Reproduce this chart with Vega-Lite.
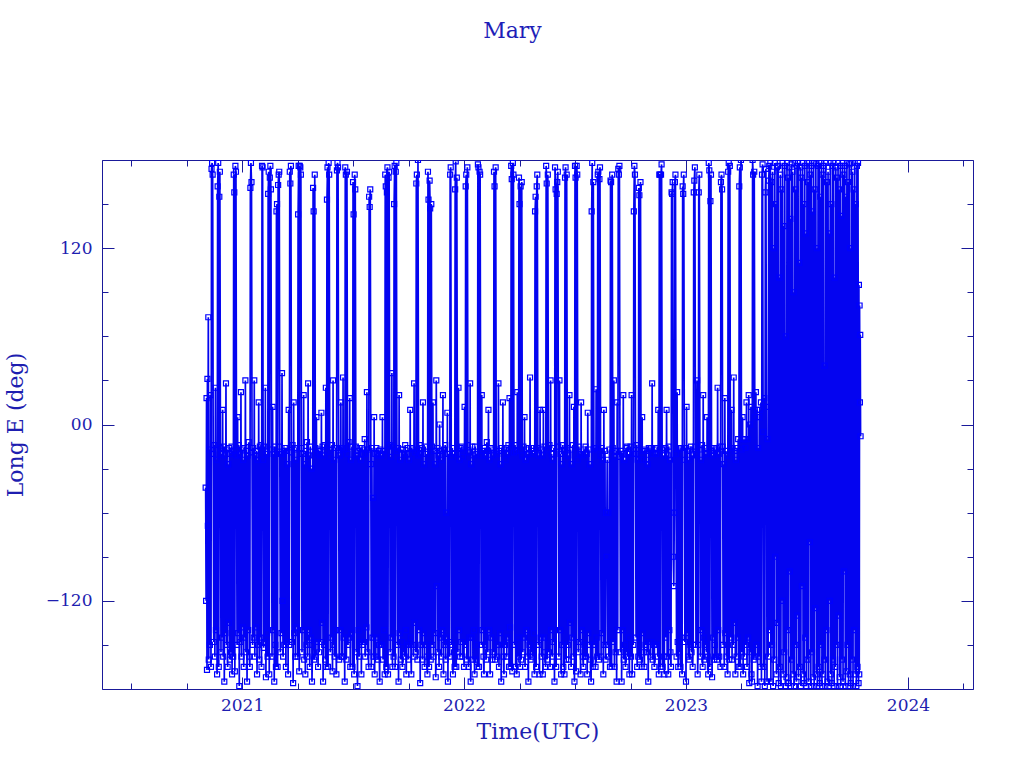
{
  "$schema": "https://vega.github.io/schema/vega-lite/v6.json",
  "width": 871,
  "height": 529,
  "autosize": {"type": "none"},
  "padding": {"left": 102, "top": 160, "right": 51, "bottom": 79},
  "background": "white",
  "config": {
    "font": "DejaVu Serif",
    "view": {"stroke": "#1a1a9a", "strokeWidth": 1},
    "axis": {"grid": false, "domain": false, "tickColor": "#1a1a9a", "tickWidth": 1, "labelColor": "#1e1eb0", "titleColor": "#1e1eb0", "labelFont": "DejaVu Serif", "titleFont": "DejaVu Serif", "labelFontSize": 17, "titleFontSize": 22, "titleFontWeight": "normal"}
  },
  "title": {"text": "Mary", "fontSize": 22, "font": "DejaVu Serif", "fontWeight": "normal", "color": "#1e1eb8", "anchor": "middle", "dx": -25, "offset": 91, "baseline": "alphabetic"},
  "data": {"values": [
{"t":2020.836,"v":-43},{"t":2020.838,"v":-120},{"t":2020.840,"v":18},{"t":2020.842,"v":-167},{"t":2020.844,"v":31},{"t":2020.846,"v":-69},{"t":2020.848,"v":73},
{"t":2020.85,"v":-160},{"t":2020.8525,"v":-17},{"t":2020.855,"v":-150},{"t":2020.8575,"v":20},{"t":2020.86,"v":-165},{"t":2020.8625,"v":174},{"t":2020.865,"v":178},{"t":2020.8675,"v":170},{"t":2020.87,"v":-20},{"t":2020.8725,"v":-148},{"t":2020.875,"v":-14},{"t":2020.8775,"v":-158},{"t":2020.88,"v":25},{"t":2020.8825,"v":-140},{"t":2020.885,"v":-24},{"t":2020.8875,"v":-170},{"t":2020.89,"v":162},{"t":2020.8925,"v":178},{"t":2020.895,"v":-165},{"t":2020.8975,"v":155},{"t":2020.9,"v":172},{"t":2020.9025,"v":-16},{"t":2020.905,"v":-155},{"t":2020.9075,"v":-20},{"t":2020.91,"v":-145},{"t":2020.9125,"v":10},{"t":2020.915,"v":-158},{"t":2020.9175,"v":-15},{"t":2020.92,"v":-175},{"t":2020.9225,"v":-21},{"t":2020.925,"v":-142},{"t":2020.9275,"v":28},{"t":2020.93,"v":-150},{"t":2020.9325,"v":-17},{"t":2020.935,"v":-165},{"t":2020.9375,"v":-27},{"t":2020.94,"v":-135},{"t":2020.9425,"v":-16},{"t":2020.945,"v":-160},{"t":2020.9475,"v":-20},
{"t":2020.95,"v":-155},{"t":2020.9525,"v":-15},{"t":2020.955,"v":-170},{"t":2020.9575,"v":-18},{"t":2020.96,"v":-158},{"t":2020.9625,"v":170},{"t":2020.965,"v":158},{"t":2020.9675,"v":-168},{"t":2020.97,"v":176},{"t":2020.9725,"v":172},{"t":2020.975,"v":-21},{"t":2020.9775,"v":-150},{"t":2020.98,"v":5},{"t":2020.9825,"v":-142},{"t":2020.985,"v":-14},{"t":2020.9875,"v":-178},{"t":2020.99,"v":-20},{"t":2020.9925,"v":-148},{"t":2020.995,"v":22},{"t":2020.9975,"v":-158},{"t":2021.0,"v":-17},{"t":2021.0025,"v":-138},{"t":2021.005,"v":-24},{"t":2021.0075,"v":-165},{"t":2021.01,"v":-16},{"t":2021.0125,"v":-145},{"t":2021.015,"v":30},{"t":2021.0175,"v":-155},{"t":2021.02,"v":-18},{"t":2021.0225,"v":-175},{"t":2021.025,"v":-21},{"t":2021.0275,"v":-140},{"t":2021.03,"v":-12},{"t":2021.0325,"v":-158},{"t":2021.035,"v":-165},{"t":2021.0375,"v":161},{"t":2021.04,"v":178},{"t":2021.0425,"v":165},{"t":2021.045,"v":-19},{"t":2021.0475,"v":-150},
{"t":2021.05,"v":-16},{"t":2021.0525,"v":-145},{"t":2021.055,"v":30},{"t":2021.0575,"v":-158},{"t":2021.06,"v":-21},{"t":2021.0625,"v":-138},{"t":2021.065,"v":-18},{"t":2021.0675,"v":-170},{"t":2021.07,"v":-24},{"t":2021.0725,"v":-150},{"t":2021.075,"v":15},{"t":2021.0775,"v":-160},{"t":2021.08,"v":-15},{"t":2021.0825,"v":-145},{"t":2021.085,"v":-14},{"t":2021.0875,"v":-165},{"t":2021.09,"v":176},{"t":2021.0925,"v":175},{"t":2021.095,"v":-24},{"t":2021.0975,"v":-152},{"t":2021.1,"v":-15},{"t":2021.1025,"v":-148},{"t":2021.105,"v":25},{"t":2021.1075,"v":-172},{"t":2021.11,"v":-20},{"t":2021.1125,"v":-142},{"t":2021.115,"v":-158},{"t":2021.1175,"v":157},{"t":2021.12,"v":172},{"t":2021.1225,"v":-170},{"t":2021.125,"v":168},{"t":2021.1275,"v":176},{"t":2021.13,"v":160},{"t":2021.1325,"v":-17},{"t":2021.135,"v":-158},{"t":2021.1375,"v":12},{"t":2021.14,"v":-140},{"t":2021.1425,"v":-20},{"t":2021.145,"v":-175},{"t":2021.1475,"v":-15},
{"t":2021.15,"v":-150},{"t":2021.1525,"v":-165},{"t":2021.155,"v":145},{"t":2021.1575,"v":150},{"t":2021.16,"v":-165},{"t":2021.1625,"v":163},{"t":2021.165,"v":170},{"t":2021.1675,"v":172},{"t":2021.17,"v":-15},{"t":2021.1725,"v":-155},{"t":2021.175,"v":-20},{"t":2021.1775,"v":-142},{"t":2021.18,"v":35},{"t":2021.1825,"v":-120},{"t":2021.185,"v":-158},{"t":2021.1875,"v":-20},{"t":2021.19,"v":-150},{"t":2021.1925,"v":-16},{"t":2021.195,"v":-18},{"t":2021.1975,"v":-165},{"t":2021.2,"v":-16},{"t":2021.2025,"v":-148},{"t":2021.205,"v":-27},{"t":2021.2075,"v":-170},{"t":2021.21,"v":10},{"t":2021.2125,"v":-150},{"t":2021.215,"v":172},{"t":2021.2175,"v":164},{"t":2021.22,"v":176},{"t":2021.2225,"v":-19},{"t":2021.225,"v":-148},{"t":2021.2275,"v":-14},{"t":2021.23,"v":-176},{"t":2021.2325,"v":15},{"t":2021.235,"v":-142},{"t":2021.2375,"v":-17},{"t":2021.24,"v":-158},{"t":2021.2425,"v":-24},{"t":2021.245,"v":-138},{"t":2021.2475,"v":-16},
{"t":2021.25,"v":-158},{"t":2021.2525,"v":143},{"t":2021.255,"v":176},{"t":2021.2575,"v":-168},{"t":2021.26,"v":176},{"t":2021.2625,"v":175},{"t":2021.265,"v":170},{"t":2021.2675,"v":-16},{"t":2021.27,"v":-155},{"t":2021.2725,"v":-20},{"t":2021.275,"v":-140},{"t":2021.2775,"v":20},{"t":2021.28,"v":-160},{"t":2021.2825,"v":-27},{"t":2021.285,"v":-170},{"t":2021.2875,"v":-18},{"t":2021.29,"v":-150},{"t":2021.2925,"v":-12},{"t":2021.295,"v":-158},{"t":2021.2975,"v":28},{"t":2021.3,"v":-140},{"t":2021.3025,"v":-21},{"t":2021.305,"v":-165},{"t":2021.3075,"v":-15},{"t":2021.31,"v":-145},{"t":2021.3125,"v":-30},{"t":2021.315,"v":-175},{"t":2021.3175,"v":-150},{"t":2021.32,"v":161},{"t":2021.3225,"v":145},{"t":2021.325,"v":-160},{"t":2021.3275,"v":170},{"t":2021.33,"v":-16},{"t":2021.3325,"v":-158},{"t":2021.335,"v":5},{"t":2021.3375,"v":-148},{"t":2021.34,"v":-20},{"t":2021.3425,"v":-165},{"t":2021.345,"v":-17},{"t":2021.3475,"v":-155},
{"t":2021.35,"v":-21},{"t":2021.3525,"v":-18},{"t":2021.355,"v":-148},{"t":2021.3575,"v":8},{"t":2021.36,"v":-135},{"t":2021.3625,"v":-15},{"t":2021.365,"v":-175},{"t":2021.3675,"v":-21},{"t":2021.37,"v":-150},{"t":2021.3725,"v":-14},{"t":2021.375,"v":-160},{"t":2021.3775,"v":25},{"t":2021.38,"v":-165},{"t":2021.3825,"v":153},{"t":2021.385,"v":175},{"t":2021.3875,"v":-165},{"t":2021.39,"v":178},{"t":2021.3925,"v":170},{"t":2021.395,"v":-22},{"t":2021.3975,"v":-155},{"t":2021.4,"v":-17},{"t":2021.4025,"v":-145},{"t":2021.405,"v":-14},{"t":2021.4075,"v":-168},{"t":2021.41,"v":30},{"t":2021.4125,"v":-150},{"t":2021.415,"v":-24},{"t":2021.4175,"v":-158},{"t":2021.42,"v":-16},{"t":2021.4225,"v":-140},{"t":2021.425,"v":-170},{"t":2021.4275,"v":173},{"t":2021.43,"v":178},{"t":2021.4325,"v":175},{"t":2021.435,"v":-17},{"t":2021.4375,"v":-160},{"t":2021.44,"v":-21},{"t":2021.4425,"v":-140},{"t":2021.445,"v":15},{"t":2021.4475,"v":-158},
{"t":2021.45,"v":-16},{"t":2021.4525,"v":-158},{"t":2021.455,"v":32},{"t":2021.4575,"v":-145},{"t":2021.46,"v":-17},{"t":2021.4625,"v":-175},{"t":2021.465,"v":175},{"t":2021.4675,"v":170},{"t":2021.47,"v":-160},{"t":2021.4725,"v":172},{"t":2021.475,"v":-20},{"t":2021.4775,"v":-150},{"t":2021.48,"v":-12},{"t":2021.4825,"v":-145},{"t":2021.485,"v":18},{"t":2021.4875,"v":-165},{"t":2021.49,"v":-24},{"t":2021.4925,"v":-142},{"t":2021.495,"v":-15},{"t":2021.4975,"v":-165},{"t":2021.5,"v":165},{"t":2021.5025,"v":143},{"t":2021.505,"v":-170},{"t":2021.5075,"v":170},{"t":2021.51,"v":160},{"t":2021.5125,"v":-15},{"t":2021.515,"v":-155},{"t":2021.5175,"v":-21},{"t":2021.52,"v":-178},{"t":2021.5225,"v":-18},{"t":2021.525,"v":-140},{"t":2021.5275,"v":-158},{"t":2021.53,"v":-16},{"t":2021.5325,"v":-148},{"t":2021.535,"v":-24},{"t":2021.5375,"v":-170},{"t":2021.54,"v":-16},{"t":2021.5425,"v":-150},{"t":2021.545,"v":-20},{"t":2021.5475,"v":-17},
{"t":2021.55,"v":-148},{"t":2021.5525,"v":-10},{"t":2021.555,"v":-158},{"t":2021.5575,"v":-20},{"t":2021.56,"v":-138},{"t":2021.5625,"v":22},{"t":2021.565,"v":-155},{"t":2021.5675,"v":-17},{"t":2021.57,"v":-165},{"t":2021.5725,"v":155},{"t":2021.575,"v":148},{"t":2021.5775,"v":160},{"t":2021.58,"v":-27},{"t":2021.5825,"v":-165},{"t":2021.585,"v":-16},{"t":2021.5875,"v":-145},{"t":2021.59,"v":-50},{"t":2021.5925,"v":-158},{"t":2021.595,"v":5},{"t":2021.5975,"v":-170},{"t":2021.6,"v":-20},{"t":2021.6025,"v":-158},{"t":2021.605,"v":-16},{"t":2021.6075,"v":-145},{"t":2021.61,"v":-21},{"t":2021.6125,"v":-160},{"t":2021.615,"v":-18},{"t":2021.6175,"v":-150},{"t":2021.62,"v":-175},{"t":2021.6225,"v":-17},{"t":2021.625,"v":-150},{"t":2021.6275,"v":-21},{"t":2021.63,"v":-150},{"t":2021.6325,"v":5},{"t":2021.635,"v":-160},{"t":2021.6375,"v":-18},{"t":2021.64,"v":-140},{"t":2021.6425,"v":-170},{"t":2021.645,"v":170},{"t":2021.6475,"v":162},
{"t":2021.65,"v":-165},{"t":2021.6525,"v":158},{"t":2021.655,"v":175},{"t":2021.6575,"v":-170},{"t":2021.66,"v":168},{"t":2021.6625,"v":172},{"t":2021.665,"v":-14},{"t":2021.6675,"v":-155},{"t":2021.67,"v":-22},{"t":2021.6725,"v":-145},{"t":2021.675,"v":35},{"t":2021.6775,"v":-165},{"t":2021.68,"v":-15},{"t":2021.6825,"v":-158},{"t":2021.685,"v":150},{"t":2021.6875,"v":176},{"t":2021.69,"v":-165},{"t":2021.6925,"v":172},{"t":2021.695,"v":178},{"t":2021.6975,"v":-18},{"t":2021.7,"v":-150},{"t":2021.7025,"v":-16},{"t":2021.705,"v":-175},{"t":2021.7075,"v":20},{"t":2021.71,"v":-142},{"t":2021.7125,"v":-24},{"t":2021.715,"v":-160},{"t":2021.7175,"v":-17},{"t":2021.72,"v":-148},{"t":2021.7225,"v":-165},{"t":2021.725,"v":-17},{"t":2021.7275,"v":-155},{"t":2021.73,"v":-20},{"t":2021.7325,"v":-158},{"t":2021.735,"v":-14},{"t":2021.7375,"v":-140},{"t":2021.74,"v":-170},{"t":2021.7425,"v":-20},{"t":2021.745,"v":-150},{"t":2021.7475,"v":-16},
{"t":2021.75,"v":-160},{"t":2021.7525,"v":-24},{"t":2021.755,"v":-150},{"t":2021.7575,"v":10},{"t":2021.76,"v":-145},{"t":2021.7625,"v":-170},{"t":2021.765,"v":-16},{"t":2021.7675,"v":-150},{"t":2021.77,"v":-17},{"t":2021.7725,"v":-158},{"t":2021.775,"v":28},{"t":2021.7775,"v":-135},{"t":2021.78,"v":-19},{"t":2021.7825,"v":-155},{"t":2021.785,"v":164},{"t":2021.7875,"v":170},{"t":2021.79,"v":-160},{"t":2021.7925,"v":180},{"t":2021.795,"v":-21},{"t":2021.7975,"v":-140},{"t":2021.8,"v":-14},{"t":2021.8025,"v":-176},{"t":2021.805,"v":-20},{"t":2021.8075,"v":-150},{"t":2021.81,"v":-16},{"t":2021.8125,"v":-160},{"t":2021.815,"v":15},{"t":2021.8175,"v":-142},{"t":2021.82,"v":-27},{"t":2021.8225,"v":-165},{"t":2021.825,"v":-15},{"t":2021.8275,"v":-150},{"t":2021.83,"v":-20},{"t":2021.8325,"v":-158},{"t":2021.835,"v":-170},{"t":2021.8375,"v":172},{"t":2021.84,"v":153},{"t":2021.8425,"v":-165},{"t":2021.845,"v":166},{"t":2021.8475,"v":147},
{"t":2021.85,"v":-160},{"t":2021.8525,"v":150},{"t":2021.855,"v":-15},{"t":2021.8575,"v":-150},{"t":2021.86,"v":15},{"t":2021.8625,"v":-158},{"t":2021.865,"v":-18},{"t":2021.8675,"v":-142},{"t":2021.87,"v":-27},{"t":2021.8725,"v":-172},{"t":2021.875,"v":30},{"t":2021.8775,"v":-110},{"t":2021.88,"v":-16},{"t":2021.8825,"v":-155},{"t":2021.885,"v":-21},{"t":2021.8875,"v":-165},{"t":2021.89,"v":0},{"t":2021.8925,"v":-145},{"t":2021.895,"v":-18},{"t":2021.8975,"v":-158},{"t":2021.9,"v":-24},{"t":2021.9025,"v":-140},{"t":2021.905,"v":20},{"t":2021.9075,"v":-170},{"t":2021.91,"v":-17},{"t":2021.9125,"v":-150},{"t":2021.915,"v":-14},{"t":2021.9175,"v":-160},{"t":2021.92,"v":-60},{"t":2021.9225,"v":-145},{"t":2021.925,"v":8},{"t":2021.9275,"v":-175},{"t":2021.93,"v":-20},{"t":2021.9325,"v":-148},{"t":2021.935,"v":-158},{"t":2021.9375,"v":170},{"t":2021.94,"v":175},{"t":2021.9425,"v":-22},{"t":2021.945,"v":-150},{"t":2021.9475,"v":-16},
{"t":2021.95,"v":-170},{"t":2021.9525,"v":-20},{"t":2021.955,"v":-155},{"t":2021.9575,"v":-165},{"t":2021.96,"v":160},{"t":2021.9625,"v":179},{"t":2021.965,"v":-165},{"t":2021.9675,"v":168},{"t":2021.97,"v":-20},{"t":2021.9725,"v":-155},{"t":2021.975,"v":25},{"t":2021.9775,"v":-140},{"t":2021.98,"v":-24},{"t":2021.9825,"v":-158},{"t":2021.985,"v":-16},{"t":2021.9875,"v":-148},{"t":2021.99,"v":-15},{"t":2021.9925,"v":-158},{"t":2021.995,"v":-22},{"t":2021.9975,"v":-17},{"t":2022.0,"v":-165},{"t":2022.0025,"v":12},{"t":2022.005,"v":-150},{"t":2022.0075,"v":162},{"t":2022.01,"v":170},{"t":2022.0125,"v":-160},{"t":2022.015,"v":175},{"t":2022.0175,"v":-14},{"t":2022.02,"v":-165},{"t":2022.0225,"v":-19},{"t":2022.025,"v":-145},{"t":2022.0275,"v":28},{"t":2022.03,"v":-175},{"t":2022.0325,"v":-27},{"t":2022.035,"v":-145},{"t":2022.0375,"v":-15},{"t":2022.04,"v":-160},{"t":2022.0425,"v":-21},{"t":2022.045,"v":-140},{"t":2022.0475,"v":-170},
{"t":2022.05,"v":-15},{"t":2022.0525,"v":-160},{"t":2022.055,"v":-20},{"t":2022.0575,"v":-150},{"t":2022.06,"v":-165},{"t":2022.0625,"v":177},{"t":2022.065,"v":175},{"t":2022.0675,"v":-165},{"t":2022.07,"v":172},{"t":2022.0725,"v":170},{"t":2022.075,"v":-21},{"t":2022.0775,"v":-150},{"t":2022.08,"v":20},{"t":2022.0825,"v":-140},{"t":2022.085,"v":-18},{"t":2022.0875,"v":-158},{"t":2022.09,"v":-170},{"t":2022.0925,"v":-16},{"t":2022.095,"v":-150},{"t":2022.0975,"v":-21},{"t":2022.1,"v":-160},{"t":2022.1025,"v":-12},{"t":2022.105,"v":-18},{"t":2022.1075,"v":-155},{"t":2022.11,"v":10},{"t":2022.1125,"v":-140},{"t":2022.115,"v":-24},{"t":2022.1175,"v":-170},{"t":2022.12,"v":-16},{"t":2022.1225,"v":-145},{"t":2022.125,"v":-17},{"t":2022.1275,"v":-160},{"t":2022.13,"v":-21},{"t":2022.1325,"v":-155},{"t":2022.135,"v":172},{"t":2022.1375,"v":162},{"t":2022.14,"v":-160},{"t":2022.1425,"v":175},{"t":2022.145,"v":-17},{"t":2022.1475,"v":-158},
{"t":2022.15,"v":-20},{"t":2022.1525,"v":-150},{"t":2022.155,"v":28},{"t":2022.1575,"v":-165},{"t":2022.16,"v":-18},{"t":2022.1625,"v":-142},{"t":2022.165,"v":-27},{"t":2022.1675,"v":-175},{"t":2022.17,"v":-16},{"t":2022.1725,"v":-150},{"t":2022.175,"v":15},{"t":2022.1775,"v":-158},{"t":2022.18,"v":-170},{"t":2022.1825,"v":-17},{"t":2022.185,"v":-150},{"t":2022.1875,"v":-24},{"t":2022.19,"v":-16},{"t":2022.1925,"v":-158},{"t":2022.195,"v":-20},{"t":2022.1975,"v":-145},{"t":2022.2,"v":-14},{"t":2022.2025,"v":-165},{"t":2022.205,"v":18},{"t":2022.2075,"v":-138},{"t":2022.21,"v":-165},{"t":2022.2125,"v":176},{"t":2022.215,"v":167},{"t":2022.2175,"v":-168},{"t":2022.22,"v":178},{"t":2022.2225,"v":170},{"t":2022.225,"v":-19},{"t":2022.2275,"v":-150},{"t":2022.23,"v":-14},{"t":2022.2325,"v":-165},{"t":2022.235,"v":-18},{"t":2022.2375,"v":-170},{"t":2022.24,"v":22},{"t":2022.2425,"v":-145},{"t":2022.245,"v":-158},{"t":2022.2475,"v":168},
{"t":2022.25,"v":150},{"t":2022.2525,"v":-165},{"t":2022.255,"v":162},{"t":2022.2575,"v":-160},{"t":2022.26,"v":165},{"t":2022.2625,"v":-21},{"t":2022.265,"v":-155},{"t":2022.2675,"v":-15},{"t":2022.27,"v":-145},{"t":2022.2725,"v":5},{"t":2022.275,"v":-165},{"t":2022.2775,"v":-24},{"t":2022.28,"v":-140},{"t":2022.2825,"v":-17},{"t":2022.285,"v":-158},{"t":2022.2875,"v":-20},{"t":2022.29,"v":-175},{"t":2022.2925,"v":-16},{"t":2022.295,"v":-150},{"t":2022.2975,"v":32},{"t":2022.3,"v":-160},{"t":2022.3025,"v":-16},{"t":2022.305,"v":-155},{"t":2022.3075,"v":-18},{"t":2022.31,"v":-158},{"t":2022.3125,"v":-20},{"t":2022.315,"v":-142},{"t":2022.3175,"v":-170},{"t":2022.32,"v":145},{"t":2022.3225,"v":155},{"t":2022.325,"v":-165},{"t":2022.3275,"v":162},{"t":2022.33,"v":170},{"t":2022.3325,"v":-16},{"t":2022.335,"v":-150},{"t":2022.3375,"v":-21},{"t":2022.34,"v":-170},{"t":2022.3425,"v":10},{"t":2022.345,"v":-145},{"t":2022.3475,"v":-17},
{"t":2022.35,"v":-158},{"t":2022.3525,"v":-21},{"t":2022.355,"v":-170},{"t":2022.3575,"v":10},{"t":2022.36,"v":-145},{"t":2022.3625,"v":-15},{"t":2022.365,"v":-155},{"t":2022.3675,"v":-165},{"t":2022.37,"v":176},{"t":2022.3725,"v":164},{"t":2022.375,"v":-160},{"t":2022.3775,"v":170},{"t":2022.38,"v":-17},{"t":2022.3825,"v":-155},{"t":2022.385,"v":-14},{"t":2022.3875,"v":-165},{"t":2022.39,"v":30},{"t":2022.3925,"v":-140},{"t":2022.395,"v":-20},{"t":2022.3975,"v":-158},{"t":2022.4,"v":-24},{"t":2022.4025,"v":-148},{"t":2022.405,"v":-16},{"t":2022.4075,"v":-175},{"t":2022.41,"v":175},{"t":2022.4125,"v":160},{"t":2022.415,"v":-165},{"t":2022.4175,"v":157},{"t":2022.42,"v":165},{"t":2022.4225,"v":172},{"t":2022.425,"v":-15},{"t":2022.4275,"v":-158},{"t":2022.43,"v":30},{"t":2022.4325,"v":-140},{"t":2022.435,"v":-20},{"t":2022.4375,"v":-170},{"t":2022.44,"v":-27},{"t":2022.4425,"v":-150},{"t":2022.445,"v":-14},{"t":2022.4475,"v":-165},
{"t":2022.45,"v":-18},{"t":2022.4525,"v":-170},{"t":2022.455,"v":168},{"t":2022.4575,"v":175},{"t":2022.46,"v":-160},{"t":2022.4625,"v":170},{"t":2022.465,"v":-16},{"t":2022.4675,"v":-150},{"t":2022.47,"v":-21},{"t":2022.4725,"v":-160},{"t":2022.475,"v":20},{"t":2022.4775,"v":-135},{"t":2022.48,"v":-17},{"t":2022.4825,"v":-165},{"t":2022.485,"v":-27},{"t":2022.4875,"v":-145},{"t":2022.49,"v":-14},{"t":2022.4925,"v":-158},{"t":2022.495,"v":12},{"t":2022.4975,"v":-175},{"t":2022.5,"v":176},{"t":2022.5025,"v":168},{"t":2022.505,"v":-168},{"t":2022.5075,"v":176},{"t":2022.51,"v":170},{"t":2022.5125,"v":-24},{"t":2022.515,"v":-155},{"t":2022.5175,"v":-15},{"t":2022.52,"v":-148},{"t":2022.5225,"v":-20},{"t":2022.525,"v":-170},{"t":2022.5275,"v":15},{"t":2022.53,"v":-140},{"t":2022.5325,"v":-21},{"t":2022.535,"v":-158},{"t":2022.5375,"v":-165},{"t":2022.54,"v":-17},{"t":2022.5425,"v":-150},{"t":2022.545,"v":-158},{"t":2022.5475,"v":-15},
{"t":2022.55,"v":-158},{"t":2022.5525,"v":-20},{"t":2022.555,"v":-170},{"t":2022.5575,"v":8},{"t":2022.56,"v":-142},{"t":2022.5625,"v":-17},{"t":2022.565,"v":-150},{"t":2022.5675,"v":-27},{"t":2022.57,"v":-160},{"t":2022.5725,"v":-175},{"t":2022.575,"v":145},{"t":2022.5775,"v":178},{"t":2022.58,"v":-165},{"t":2022.5825,"v":165},{"t":2022.585,"v":-17},{"t":2022.5875,"v":-150},{"t":2022.59,"v":-16},{"t":2022.5925,"v":-165},{"t":2022.595,"v":24},{"t":2022.5975,"v":-145},{"t":2022.6,"v":-158},{"t":2022.6025,"v":170},{"t":2022.605,"v":172},{"t":2022.6075,"v":-160},{"t":2022.61,"v":167},{"t":2022.6125,"v":175},{"t":2022.615,"v":-21},{"t":2022.6175,"v":-158},{"t":2022.62,"v":-16},{"t":2022.6225,"v":-142},{"t":2022.625,"v":-24},{"t":2022.6275,"v":-170},{"t":2022.63,"v":10},{"t":2022.6325,"v":-150},{"t":2022.635,"v":-18},{"t":2022.6375,"v":-160},{"t":2022.64,"v":-60},{"t":2022.6425,"v":-90},{"t":2022.645,"v":-24},{"t":2022.6475,"v":-150},
{"t":2022.65,"v":-60},{"t":2022.6525,"v":-158},{"t":2022.655,"v":-17},{"t":2022.6575,"v":-165},{"t":2022.66,"v":166},{"t":2022.6625,"v":165},{"t":2022.665,"v":-165},{"t":2022.6675,"v":170},{"t":2022.67,"v":-16},{"t":2022.6725,"v":-148},{"t":2022.675,"v":30},{"t":2022.6775,"v":-165},{"t":2022.68,"v":-22},{"t":2022.6825,"v":-155},{"t":2022.685,"v":-18},{"t":2022.6875,"v":-175},{"t":2022.69,"v":15},{"t":2022.6925,"v":-140},{"t":2022.695,"v":174},{"t":2022.6975,"v":170},{"t":2022.7,"v":176},{"t":2022.7025,"v":-22},{"t":2022.705,"v":-155},{"t":2022.7075,"v":-18},{"t":2022.71,"v":-175},{"t":2022.7125,"v":-20},{"t":2022.715,"v":-140},{"t":2022.7175,"v":20},{"t":2022.72,"v":-160},{"t":2022.7225,"v":-24},{"t":2022.725,"v":-150},{"t":2022.7275,"v":-165},{"t":2022.73,"v":-16},{"t":2022.7325,"v":-155},{"t":2022.735,"v":-15},{"t":2022.7375,"v":-158},{"t":2022.74,"v":-20},{"t":2022.7425,"v":-145},{"t":2022.745,"v":-170},{"t":2022.7475,"v":-20},
{"t":2022.75,"v":-15},{"t":2022.7525,"v":-158},{"t":2022.755,"v":20},{"t":2022.7575,"v":-170},{"t":2022.76,"v":-20},{"t":2022.7625,"v":-150},{"t":2022.765,"v":145},{"t":2022.7675,"v":176},{"t":2022.77,"v":170},{"t":2022.7725,"v":-20},{"t":2022.775,"v":-145},{"t":2022.7775,"v":-14},{"t":2022.78,"v":-165},{"t":2022.7825,"v":-24},{"t":2022.785,"v":-158},{"t":2022.7875,"v":161},{"t":2022.79,"v":156},{"t":2022.7925,"v":-160},{"t":2022.795,"v":165},{"t":2022.7975,"v":-24},{"t":2022.8,"v":-165},{"t":2022.8025,"v":5},{"t":2022.805,"v":-142},{"t":2022.8075,"v":-18},{"t":2022.81,"v":-155},{"t":2022.8125,"v":-165},{"t":2022.815,"v":-17},{"t":2022.8175,"v":-150},{"t":2022.82,"v":-24},{"t":2022.8225,"v":-18},{"t":2022.825,"v":-155},{"t":2022.8275,"v":-27},{"t":2022.83,"v":-175},{"t":2022.8325,"v":-16},{"t":2022.835,"v":-148},{"t":2022.8375,"v":-17},{"t":2022.84,"v":-158},{"t":2022.8425,"v":-16},{"t":2022.845,"v":-148},{"t":2022.8475,"v":28},
{"t":2022.85,"v":-160},{"t":2022.8525,"v":-20},{"t":2022.855,"v":-150},{"t":2022.8575,"v":-165},{"t":2022.86,"v":-17},{"t":2022.8625,"v":-150},{"t":2022.865,"v":-20},{"t":2022.8675,"v":-150},{"t":2022.87,"v":-16},{"t":2022.8725,"v":-158},{"t":2022.875,"v":10},{"t":2022.8775,"v":-170},{"t":2022.88,"v":170},{"t":2022.8825,"v":170},{"t":2022.885,"v":-165},{"t":2022.8875,"v":170},{"t":2022.89,"v":177},{"t":2022.8925,"v":-17},{"t":2022.895,"v":-165},{"t":2022.8975,"v":-21},{"t":2022.9,"v":-158},{"t":2022.9025,"v":-170},{"t":2022.905,"v":-17},{"t":2022.9075,"v":-16},{"t":2022.91,"v":-145},{"t":2022.9125,"v":10},{"t":2022.915,"v":-158},{"t":2022.9175,"v":-21},{"t":2022.92,"v":-170},{"t":2022.9225,"v":-15},{"t":2022.925,"v":-140},{"t":2022.9275,"v":-24},{"t":2022.93,"v":-155},{"t":2022.9325,"v":-165},{"t":2022.935,"v":158},{"t":2022.9375,"v":157},{"t":2022.94,"v":165},{"t":2022.9425,"v":-90},{"t":2022.945,"v":-110},{"t":2022.9475,"v":-60},
{"t":2022.95,"v":165},{"t":2022.9525,"v":170},{"t":2022.955,"v":-20},{"t":2022.9575,"v":-158},{"t":2022.96,"v":22},{"t":2022.9625,"v":-148},{"t":2022.965,"v":-165},{"t":2022.9675,"v":-16},{"t":2022.97,"v":-155},{"t":2022.9725,"v":-17},{"t":2022.975,"v":-165},{"t":2022.9775,"v":-16},{"t":2022.98,"v":-145},{"t":2022.9825,"v":-170},{"t":2022.985,"v":162},{"t":2022.9875,"v":157},{"t":2022.99,"v":170},{"t":2022.9925,"v":-24},{"t":2022.995,"v":-148},{"t":2022.9975,"v":-16},{"t":2023.0,"v":-175},{"t":2023.0025,"v":12},{"t":2023.005,"v":-142},{"t":2023.0075,"v":-18},{"t":2023.01,"v":-158},{"t":2023.0125,"v":-24},{"t":2023.015,"v":-160},{"t":2023.0175,"v":-17},{"t":2023.02,"v":-150},{"t":2023.0225,"v":-15},{"t":2023.025,"v":-155},{"t":2023.0275,"v":-21},{"t":2023.03,"v":-165},{"t":2023.0325,"v":-150},{"t":2023.035,"v":158},{"t":2023.0375,"v":166},{"t":2023.04,"v":175},{"t":2023.0425,"v":-15},{"t":2023.045,"v":-150},{"t":2023.0475,"v":-20},
{"t":2023.05,"v":30},{"t":2023.0525,"v":-170},{"t":2023.055,"v":-150},{"t":2023.0575,"v":158},{"t":2023.06,"v":170},{"t":2023.0625,"v":-17},{"t":2023.065,"v":-158},{"t":2023.0675,"v":-24},{"t":2023.07,"v":-140},{"t":2023.0725,"v":-14},{"t":2023.075,"v":-165},{"t":2023.0775,"v":20},{"t":2023.08,"v":-145},{"t":2023.0825,"v":-160},{"t":2023.085,"v":-16},{"t":2023.0875,"v":-150},{"t":2023.09,"v":-20},{"t":2023.0925,"v":-155},{"t":2023.095,"v":5},{"t":2023.0975,"v":-158},{"t":2023.1,"v":-170},{"t":2023.1025,"v":178},{"t":2023.105,"v":173},{"t":2023.1075,"v":-165},{"t":2023.11,"v":152},{"t":2023.1125,"v":170},{"t":2023.115,"v":-18},{"t":2023.1175,"v":-172},{"t":2023.12,"v":-21},{"t":2023.1225,"v":-145},{"t":2023.125,"v":-16},{"t":2023.1275,"v":-160},{"t":2023.13,"v":-150},{"t":2023.1325,"v":-17},{"t":2023.135,"v":-158},{"t":2023.1375,"v":-16},{"t":2023.14,"v":-160},{"t":2023.1425,"v":25},{"t":2023.145,"v":-140},{"t":2023.1475,"v":-20},
{"t":2023.15,"v":-158},{"t":2023.1525,"v":-15},{"t":2023.155,"v":-165},{"t":2023.1575,"v":165},{"t":2023.16,"v":170},{"t":2023.1625,"v":160},{"t":2023.165,"v":-15},{"t":2023.1675,"v":-150},{"t":2023.17,"v":-27},{"t":2023.1725,"v":-165},{"t":2023.175,"v":18},{"t":2023.1775,"v":-142},{"t":2023.18,"v":-18},{"t":2023.1825,"v":-158},{"t":2023.185,"v":-21},{"t":2023.1875,"v":-170},{"t":2023.19,"v":172},{"t":2023.1925,"v":178},{"t":2023.195,"v":-160},{"t":2023.1975,"v":176},{"t":2023.2,"v":-16},{"t":2023.2025,"v":-145},{"t":2023.205,"v":10},{"t":2023.2075,"v":-160},{"t":2023.21,"v":-16},{"t":2023.2125,"v":-150},{"t":2023.215,"v":32},{"t":2023.2175,"v":-135},{"t":2023.22,"v":-18},{"t":2023.2225,"v":-170},{"t":2023.225,"v":-24},{"t":2023.2275,"v":-158},{"t":2023.23,"v":-16},{"t":2023.2325,"v":-145},{"t":2023.235,"v":-10},{"t":2023.2375,"v":-165},{"t":2023.24,"v":162},{"t":2023.2425,"v":175},{"t":2023.245,"v":-165},{"t":2023.2475,"v":180},
{"t":2023.25,"v":-17},{"t":2023.2525,"v":-155},{"t":2023.255,"v":5},{"t":2023.2575,"v":-170},{"t":2023.26,"v":-10},{"t":2023.2625,"v":-158},{"t":2023.265,"v":-10},{"t":2023.2675,"v":-16},{"t":2023.27,"v":-150},{"t":2023.2725,"v":15},{"t":2023.275,"v":-165},{"t":2023.2775,"v":-10},{"t":2023.28,"v":-145},{"t":2023.2825,"v":20},{"t":2023.285,"v":-176},{"t":2023.2875,"v":0},{"t":2023.29,"v":-155},{"t":2023.2925,"v":12},{"t":2023.295,"v":-170},{"t":2023.2975,"v":-175},{"t":2023.3,"v":180},{"t":2023.3025,"v":170},{"t":2023.305,"v":-160},{"t":2023.3075,"v":172},{"t":2023.31,"v":5},{"t":2023.3125,"v":-158},{"t":2023.315,"v":22},{"t":2023.3175,"v":-150},{"t":2023.32,"v":10},{"t":2023.3225,"v":-178},{"t":2023.325,"v":-16},{"t":2023.3275,"v":-158},{"t":2023.33,"v":5},{"t":2023.3325,"v":10},{"t":2023.335,"v":-165},{"t":2023.3375,"v":15},{"t":2023.34,"v":-175},{"t":2023.3425,"v":170},{"t":2023.345,"v":177},{"t":2023.3475,"v":-5},
{"t":2023.35,"v":-165},{"t":2023.3525,"v":18},{"t":2023.355,"v":-178},{"t":2023.3575,"v":158},{"t":2023.36,"v":174},{"t":2023.3625,"v":12},{"t":2023.365,"v":-175},{"t":2023.3675,"v":-10},{"t":2023.37,"v":-158},{"t":2023.3725,"v":166},{"t":2023.375,"v":176},{"t":2023.3775,"v":-140},
{"t":2023.38,"v":178},{"t":2023.3825,"v":-175},{"t":2023.385,"v":165},{"t":2023.3875,"v":-150},{"t":2023.39,"v":172},{"t":2023.3925,"v":-178},{"t":2023.395,"v":120},{"t":2023.3975,"v":-160},{"t":2023.4,"v":178},{"t":2023.4025,"v":-90},{"t":2023.405,"v":150},{"t":2023.4075,"v":-170},{"t":2023.41,"v":175},{"t":2023.4125,"v":-135},{"t":2023.415,"v":176},{"t":2023.4175,"v":-176},{"t":2023.42,"v":100},{"t":2023.4225,"v":-165},{"t":2023.425,"v":170},{"t":2023.4275,"v":-178},
{"t":2023.43,"v":160},{"t":2023.4325,"v":-120},{"t":2023.435,"v":178},{"t":2023.4375,"v":-170},{"t":2023.44,"v":135},{"t":2023.4425,"v":-155},{"t":2023.445,"v":176},{"t":2023.4475,"v":-178},{"t":2023.45,"v":60},{"t":2023.4525,"v":-172},{"t":2023.455,"v":178},{"t":2023.4575,"v":-140},{"t":2023.46,"v":168},{"t":2023.4625,"v":-176},{"t":2023.465,"v":175},{"t":2023.4675,"v":-100},{"t":2023.47,"v":140},{"t":2023.4725,"v":-178},{"t":2023.475,"v":177},{"t":2023.4775,"v":-160},
{"t":2023.48,"v":172},{"t":2023.4825,"v":-170},{"t":2023.485,"v":90},{"t":2023.4875,"v":-178},{"t":2023.49,"v":178},{"t":2023.4925,"v":-150},{"t":2023.495,"v":160},{"t":2023.4975,"v":-175},{"t":2023.5,"v":176},{"t":2023.5025,"v":-130},{"t":2023.505,"v":178},{"t":2023.5075,"v":-172},{"t":2023.51,"v":110},{"t":2023.5125,"v":-165},{"t":2023.515,"v":175},{"t":2023.5175,"v":-178},{"t":2023.52,"v":168},{"t":2023.5225,"v":-110},{"t":2023.525,"v":178},{"t":2023.5275,"v":-170},
{"t":2023.53,"v":150},{"t":2023.5325,"v":-176},{"t":2023.535,"v":176},{"t":2023.5375,"v":-145},{"t":2023.54,"v":130},{"t":2023.5425,"v":-178},{"t":2023.545,"v":178},{"t":2023.5475,"v":-160},{"t":2023.55,"v":165},{"t":2023.5525,"v":-175},{"t":2023.555,"v":178},{"t":2023.5575,"v":-80},{"t":2023.56,"v":170},{"t":2023.5625,"v":-178},{"t":2023.565,"v":176},{"t":2023.5675,"v":-155},{"t":2023.57,"v":145},{"t":2023.5725,"v":-172},{"t":2023.575,"v":178},{"t":2023.5775,"v":-178},
{"t":2023.58,"v":160},{"t":2023.5825,"v":-125},{"t":2023.585,"v":177},{"t":2023.5875,"v":-170},{"t":2023.59,"v":120},{"t":2023.5925,"v":-178},{"t":2023.595,"v":176},{"t":2023.5975,"v":-165},{"t":2023.6,"v":178},{"t":2023.6025,"v":-176},{"t":2023.605,"v":155},{"t":2023.6075,"v":-150},{"t":2023.61,"v":178},{"t":2023.6125,"v":-178},{"t":2023.615,"v":170},{"t":2023.6175,"v":-170},{"t":2023.62,"v":176},{"t":2023.6225,"v":-160},{"t":2023.625,"v":40},{"t":2023.6275,"v":-178},
{"t":2023.63,"v":178},{"t":2023.6325,"v":-140},{"t":2023.635,"v":165},{"t":2023.6375,"v":-175},{"t":2023.64,"v":172},{"t":2023.6425,"v":-178},{"t":2023.645,"v":130},{"t":2023.6475,"v":-120},{"t":2023.65,"v":178},{"t":2023.6525,"v":-170},{"t":2023.655,"v":150},{"t":2023.6575,"v":-176},{"t":2023.66,"v":176},{"t":2023.6625,"v":-160},{"t":2023.665,"v":178},{"t":2023.6675,"v":-178},{"t":2023.67,"v":100},{"t":2023.6725,"v":-165},{"t":2023.675,"v":175},{"t":2023.6775,"v":-150},
{"t":2023.68,"v":168},{"t":2023.6825,"v":-178},{"t":2023.685,"v":178},{"t":2023.6875,"v":-130},{"t":2023.69,"v":160},{"t":2023.6925,"v":-172},{"t":2023.695,"v":176},{"t":2023.6975,"v":-178},{"t":2023.7,"v":142},{"t":2023.7025,"v":-160},{"t":2023.705,"v":178},{"t":2023.7075,"v":-175},{"t":2023.71,"v":170},{"t":2023.7125,"v":-100},{"t":2023.715,"v":176},{"t":2023.7175,"v":-178},{"t":2023.72,"v":155},{"t":2023.7225,"v":-168},{"t":2023.725,"v":178},{"t":2023.7275,"v":-150},
{"t":2023.73,"v":165},{"t":2023.7325,"v":-178},{"t":2023.735,"v":177},{"t":2023.7375,"v":-170},{"t":2023.74,"v":120},{"t":2023.7425,"v":-176},{"t":2023.745,"v":178},{"t":2023.7475,"v":-160},{"t":2023.75,"v":172},{"t":2023.7525,"v":-178},{"t":2023.755,"v":160},{"t":2023.7575,"v":-140},{"t":2023.76,"v":178},{"t":2023.7625,"v":-170},{"t":2023.765,"v":150},{"t":2023.7675,"v":-178},{"t":2023.77,"v":176},{"t":2023.7725,"v":-165},{"t":2023.775,"v":178},{"t":2023.7775,"v":-176},
{"t":2023.779,"v":95},{"t":2023.7805,"v":-170},{"t":2023.782,"v":81},{"t":2023.7835,"v":15},{"t":2023.785,"v":61},{"t":2023.7865,"v":-8}
  ]},
  "layer": [
    {
      "mark": {"type": "line", "color": "#0404f0", "strokeWidth": 1.7, "clip": true, "point": {"shape": "square", "filled": false, "size": 25, "color": "#0000ff", "strokeWidth": 1.2}},
      "encoding": {
        "x": {"field": "t", "type": "quantitative", "scale": {"domain": [2020.369, 2024.293], "nice": false, "zero": false},
          "axis": {"orient": "bottom", "title": "Time(UTC)", "titlePadding": 2,
            "values": [2020.5, 2020.75, 2021, 2021.25, 2021.5, 2021.75, 2022, 2022.25, 2022.5, 2022.75, 2023, 2023.25, 2023.5, 2023.75, 2024, 2024.25],
            "labelExpr": "datum.value % 1 == 0 ? format(datum.value, 'd') : ''",
            "tickSize": {"condition": {"test": "datum.value % 1 == 0", "value": -12}, "value": -6},
            "labelPadding": 20, "labelFlush": false, "labelOverlap": false}},
        "y": {"field": "v", "type": "quantitative", "scale": {"domain": [-180, 180], "nice": false, "zero": false},
          "axis": {"orient": "left", "title": "Long E (deg)", "titlePadding": 18,
            "values": [-180, -150, -120, -90, -60, -30, 0, 30, 60, 90, 120, 150, 180],
            "labelExpr": "datum.value == 0 ? '00' : (datum.value == 120 ? '120' : (datum.value == -120 ? '−120' : ''))",
            "tickSize": {"condition": {"test": "datum.value % 120 == 0", "value": -12}, "value": -6},
            "labelPadding": 22, "labelOverlap": false, "labelFlush": false}}
      }
    },
    {
      "transform": [{"filter": "datum.t < 0"}],
      "mark": {"type": "point", "opacity": 0},
      "encoding": {
        "x": {"field": "t", "type": "quantitative",
          "axis": {"orient": "top", "title": null, "labels": false,
            "values": [2020.5, 2020.75, 2021, 2021.25, 2021.5, 2021.75, 2022, 2022.25, 2022.5, 2022.75, 2023, 2023.25, 2023.5, 2023.75, 2024, 2024.25],
            "tickSize": {"condition": {"test": "datum.value % 1 == 0", "value": -12}, "value": -6}}},
        "y": {"field": "v", "type": "quantitative",
          "axis": {"orient": "right", "title": null, "labels": false,
            "values": [-180, -150, -120, -90, -60, -30, 0, 30, 60, 90, 120, 150, 180],
            "tickSize": {"condition": {"test": "datum.value % 120 == 0", "value": -12}, "value": -6}}}
      }
    }
  ],
  "resolve": {"axis": {"x": "independent", "y": "independent"}}
}
